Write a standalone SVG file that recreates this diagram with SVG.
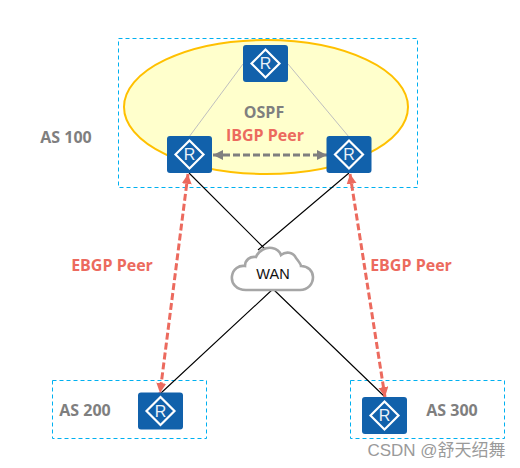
<svg xmlns="http://www.w3.org/2000/svg" width="520" height="468" viewBox="0 0 520 468">
<style>
.box{fill:none;stroke:#00b0f0;stroke-width:1;stroke-dasharray:4 3}
.rbody{fill:#1161ab}
.rdia{fill:none;stroke:#fff;stroke-width:2.2}
.rtxt{font-family:"Liberation Sans",sans-serif;font-size:16px;fill:#fff;text-anchor:middle;opacity:.92}
.lab{font-family:"Open Sans",sans-serif;font-weight:700;font-size:16px;text-anchor:middle}
.grey{fill:#7f7f7f}
.red{fill:#ec6a5e}
.thin{stroke:#bfbfbf;stroke-width:1;fill:none}
.blk{stroke:#000;stroke-width:1.1;fill:none}
.ebgp{stroke:#ec6a5e;stroke-width:3;stroke-dasharray:7 3;fill:none}
.ibgp{stroke:#7f7f7f;stroke-width:3;stroke-dasharray:7 3;fill:none}
</style>
<defs>
<marker id="ar" markerUnits="userSpaceOnUse" markerWidth="12" markerHeight="12" refX="10" refY="5" orient="auto-start-reverse"><path d="M0 0L10 5L0 10z" fill="#ec6a5e"/></marker>
<marker id="ag" markerUnits="userSpaceOnUse" markerWidth="12" markerHeight="12" refX="10" refY="5" orient="auto-start-reverse"><path d="M0 0L10 5L0 10z" fill="#7f7f7f"/></marker>
<g id="rt"><rect class="rbody" x="-22.5" y="-18.5" width="45" height="37" rx="3"/><path class="rdia" d="M0 -14L14 0L0 14L-14 0z"/><text class="rtxt" y="5.7">R</text></g>
</defs>
<rect width="520" height="468" fill="#fff"/>
<g id="areas">
<rect class="box" x="118.5" y="38.5" width="299" height="149"/>
<ellipse cx="266" cy="107" rx="142" ry="67" fill="#ffffcc" stroke="#ffc000" stroke-width="2"/>
<rect class="box" x="52.5" y="380.5" width="154" height="58"/>
<rect class="box" x="350.5" y="380.5" width="154" height="58"/>
</g>
<g id="connectors">
<path class="thin" d="M243 64L189 137M288 64L349 137"/>
<path class="blk" d="M189 173L266 250M349 173L258 250M273 289L161 393M273 289L385 397"/>
<path class="ebgp" d="M188 174L160 393" marker-start="url(#ar)" marker-end="url(#ar)"/>
<path class="ebgp" d="M350 174L385 397" marker-start="url(#ar)" marker-end="url(#ar)"/>
<path class="ibgp" d="M213 155L327 155" marker-start="url(#ag)" marker-end="url(#ag)"/>
</g>
<g id="r-top"><use href="#rt" x="265.5" y="63.5"/></g>
<g id="r-left"><use href="#rt" x="189.5" y="154.5"/></g>
<g id="r-right"><use href="#rt" x="349" y="154.5"/></g>
<g id="r-200"><use href="#rt" x="160.5" y="411"/></g>
<g id="r-300"><use href="#rt" x="384.5" y="415.5"/></g>
<g id="wan">
<path d="M246 290C236 290 231 283 232 276C233 269 239 265 245 266C245 260 250 256 256 257C259 250 266 247 272 248C277 249 280 252 281 255C286 251 293 252 296 258C300 263 301 265 301 266C308 266 313 271 313 277C313 284 308 290 300 290z" fill="#fff" stroke="#a6a6a6" stroke-width="2.6"/>
<text x="273" y="279" font-family="&quot;Liberation Sans&quot;,sans-serif" font-size="14.5px" fill="#111" text-anchor="middle">WAN</text>
</g>
<g id="labels">
<text class="lab grey" x="264" y="118">OSPF</text>
<text class="lab red" x="265" y="141">IBGP Peer</text>
<text class="lab grey" x="66" y="143">AS 100</text>
<text class="lab red" x="112" y="271">EBGP Peer</text>
<text class="lab red" x="411" y="271">EBGP Peer</text>
<text class="lab grey" x="85" y="416">AS 200</text>
<text class="lab grey" x="452" y="416">AS 300</text>
<text x="436.5" y="456" font-family="&quot;Liberation Sans&quot;,&quot;Noto Sans CJK SC&quot;,sans-serif" font-size="17px" fill="#9a9a9a" text-anchor="middle">CSDN @舒天绍舞</text>
</g>
</svg>
